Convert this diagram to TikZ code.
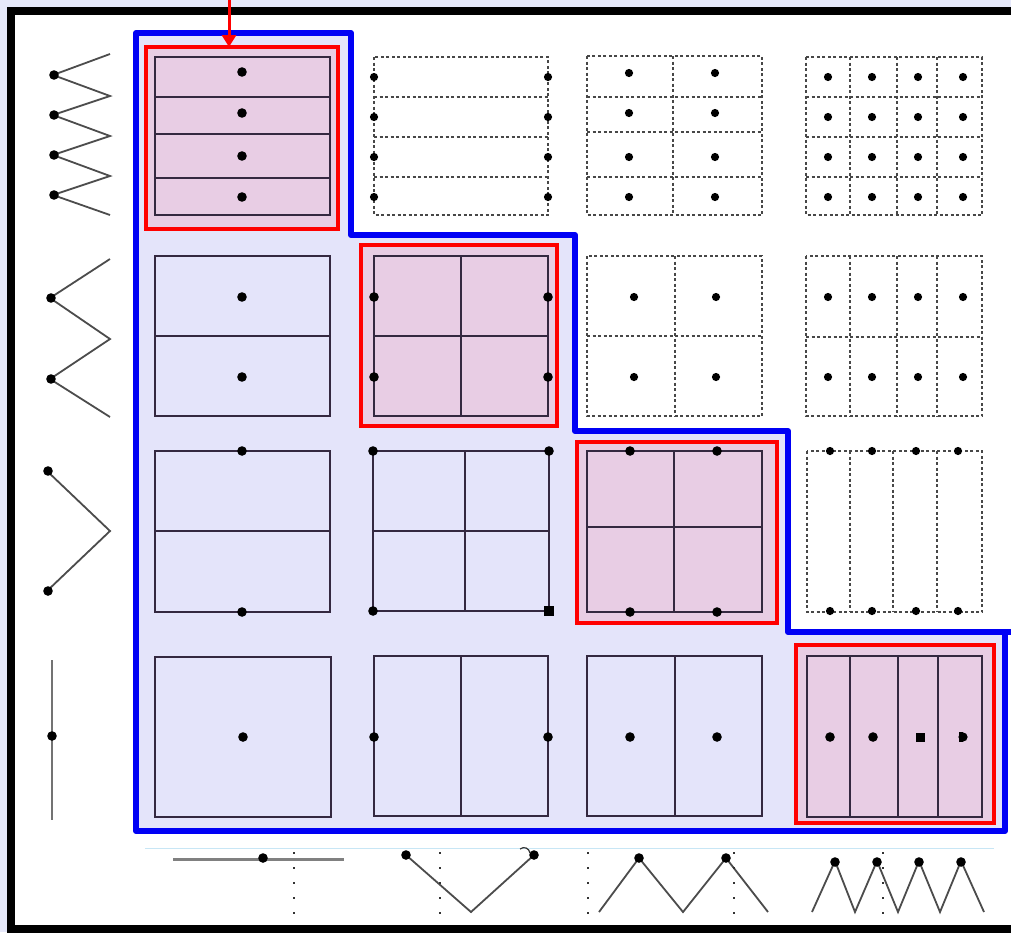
\documentclass[tikz,border=0pt]{standalone}
\usetikzlibrary{arrows.meta}
\definecolor{lav}{RGB}{228,228,250}
\definecolor{outerbg}{RGB}{230,232,250}
\definecolor{pinkc}{RGB}{232,205,228}
\definecolor{gridc}{RGB}{52,40,64}
\definecolor{bluec}{RGB}{0,0,245}
\definecolor{redc}{RGB}{255,0,0}
\definecolor{faintblue}{RGB}{200,230,245}
\tikzset{
  cellline/.style={draw=gridc, line width=1.6pt},
  dashline/.style={draw=black!72, line width=1.8pt, dash pattern=on 3pt off 2.5pt},
  zig/.style={draw=black!70, line width=1.8pt, line join=miter},
  vdotted/.style={draw=black!80, line width=1.5pt, dash pattern=on 1.5pt off 13.5pt},
  redbox/.style={draw=redc, line width=4pt, fill=pinkc},
}
\newcommand{\bdot}[2]{\fill[black] (#1,#2) circle (4.8);}
\newcommand{\sdot}[2]{\fill[black] (#1,#2) circle (4.1);}
\begin{document}
\begin{tikzpicture}[x=1pt,y=-1pt]
\useasboundingbox (0,0) rectangle (1011,932);
\clip (0,0) rectangle (1011,932);
% outer background and frame
\fill[outerbg] (0,0) rectangle (1011,932);
\fill[white] (11,11) rectangle (1011,928);
\draw[black, line width=8pt] (1030,11) -- (11,11) -- (11,928.5) -- (1030,928.5);

% blue staircase region
\filldraw[fill=lav, draw=bluec, line width=6pt, line join=round]
  (136,33) -- (351,33) -- (351,235) -- (575,235) -- (575,431) -- (788,431)
  -- (788,632) -- (1005,632) -- (1005,831) -- (136,831) -- cycle;
\draw[bluec, line width=6pt] (1000,632) -- (1015,632);

% red arrow
\draw[redc, line width=3pt, -{Triangle[length=12pt,width=14pt]}] (229,-2) -- (229,47);

% ---------- Row 1 ----------
\filldraw[redbox] (146,47) rectangle (338,229);
\draw[cellline] (155,57) rectangle (330,215);
\foreach \y in {97,134,178} {\draw[cellline] (155,\y) -- (330,\y);}
\foreach \y in {72,113,156,197} {\bdot{242}{\y}}

\draw[dashline] (374,57) rectangle (548,215);
\foreach \y in {97,137,177} {\draw[dashline] (374,\y) -- (548,\y);}
\foreach \y in {77,117,157,197} {\sdot{374}{\y}\sdot{548}{\y}}

\draw[dashline] (587,56) rectangle (762,215);
\draw[dashline] (673,56) -- (673,215);
\foreach \y in {97,132,177} {\draw[dashline] (587,\y) -- (762,\y);}
\foreach \y in {73,113,157,197} {\sdot{629}{\y}\sdot{715}{\y}}

\draw[dashline] (806,57) rectangle (982,215);
\foreach \x in {850,897,937} {\draw[dashline] (\x,57) -- (\x,215);}
\foreach \y in {97,137,177} {\draw[dashline] (806,\y) -- (982,\y);}
\foreach \x in {828,872,918,963} {\foreach \y in {77,117,157,197} {\sdot{\x}{\y}}}

% ---------- Row 2 ----------
\draw[cellline] (155,256) rectangle (330,416);
\draw[cellline] (155,336) -- (330,336);
\bdot{242}{297}\bdot{242}{377}

\filldraw[redbox] (361,245) rectangle (557,426);
\draw[cellline] (374,256) rectangle (548,416);
\draw[cellline] (461,256) -- (461,416);
\draw[cellline] (374,336) -- (548,336);
\bdot{374}{297}\bdot{548}{297}\bdot{374}{377}\bdot{548}{377}

\draw[dashline] (587,256) rectangle (762,416);
\draw[dashline] (675,256) -- (675,416);
\draw[dashline] (587,336) -- (762,336);
\sdot{634}{297}\sdot{716}{297}\sdot{634}{377}\sdot{716}{377}

\draw[dashline] (806,256) rectangle (982,416);
\foreach \x in {850,897,937} {\draw[dashline] (\x,256) -- (\x,416);}
\draw[dashline] (806,337) -- (982,337);
\foreach \x in {828,872,918,963} {\sdot{\x}{297}\sdot{\x}{377}}

% ---------- Row 3 ----------
\draw[cellline] (155,451) rectangle (330,612);
\draw[cellline] (155,531) -- (330,531);
\bdot{242}{451}\bdot{242}{612}

\draw[cellline] (373,451) rectangle (549,611);
\draw[cellline] (465,451) -- (465,611);
\draw[cellline] (373,531) -- (549,531);
\bdot{373}{451}\bdot{549}{451}\bdot{373}{611}
\fill[black] (544,606) rectangle (554,616);

\filldraw[redbox] (577,442) rectangle (777,623);
\draw[cellline] (587,451) rectangle (762,612);
\draw[cellline] (674,451) -- (674,612);
\draw[cellline] (587,527) -- (762,527);
\bdot{630}{451}\bdot{717}{451}\bdot{630}{612}\bdot{717}{612}

\draw[dashline] (807,451) rectangle (982,612);
\foreach \x in {850,893,937} {\draw[dashline] (\x,451) -- (\x,612);}
\foreach \x in {830,872,916,958} {\sdot{\x}{451}\sdot{\x}{611}}

% ---------- Row 4 ----------
\draw[cellline] (155,657) rectangle (331,817);
\bdot{243}{737}

\draw[cellline] (374,656) rectangle (548,816);
\draw[cellline] (461,656) -- (461,816);
\bdot{374}{737}\bdot{548}{737}

\draw[cellline] (587,656) rectangle (762,816);
\draw[cellline] (675,656) -- (675,816);
\bdot{630}{737}\bdot{717}{737}

\filldraw[redbox] (796,645) rectangle (994,823);
\draw[cellline] (807,656) rectangle (982,817);
\foreach \x in {850,898,938} {\draw[cellline] (\x,656) -- (\x,817);}
\bdot{830}{737}\bdot{873}{737}
\fill[black] (915.5,732.5) rectangle (924.5,741.5);
\fill[black] (963,737) circle (4.6);
\fill[black] (958.5,732.4) rectangle (963,741.6);

% ---------- Row labels (left) ----------
\draw[zig] (110,54) -- (53,75) -- (110,96) -- (53,115) -- (110,136) -- (53,155) -- (110,176) -- (53,195) -- (110,215);
\foreach \y in {75,115,155,195} {\bdot{54}{\y}}

\draw[zig] (110,259) -- (50,298) -- (110,339) -- (50,379) -- (110,417);
\bdot{51}{298}\bdot{51}{379}

\draw[zig] (47,471) -- (110,531) -- (47,591);
\bdot{48}{471}\bdot{48}{591}

\draw[draw=black!55, line width=2.5pt] (52,660) -- (52,820);
\bdot{52}{736}

% ---------- Column labels (bottom) ----------
\draw[faintblue, line width=1pt] (145,848) -- (994,848);

\draw[draw=black!50, line width=3pt] (173,859) -- (344,859);
\bdot{263}{858}
\draw[vdotted] (294,852) -- (294,914);

\draw[zig] (406,855) -- (471,912) -- (534,855);
\bdot{406}{855}\bdot{534}{855}
\draw[black!80, line width=1.2pt] (520,849) .. controls (524,846) and (529,848) .. (530,853);
\draw[vdotted] (440,852) -- (440,914);

\draw[zig] (599,912) -- (639,858) -- (683,912) -- (726,858) -- (768,912);
\bdot{639}{858}\bdot{726}{858}
\draw[vdotted] (588,852) -- (588,914);
\draw[vdotted] (734,852) -- (734,914);

\draw[zig] (812,912) -- (835,861) -- (855,912) -- (877,861) -- (898,912) -- (919,861) -- (940,912) -- (961,861) -- (984,912);
\foreach \x in {835,877,919,961} {\bdot{\x}{862}}
\draw[vdotted] (883,852) -- (883,914);
\end{tikzpicture}
\end{document}
